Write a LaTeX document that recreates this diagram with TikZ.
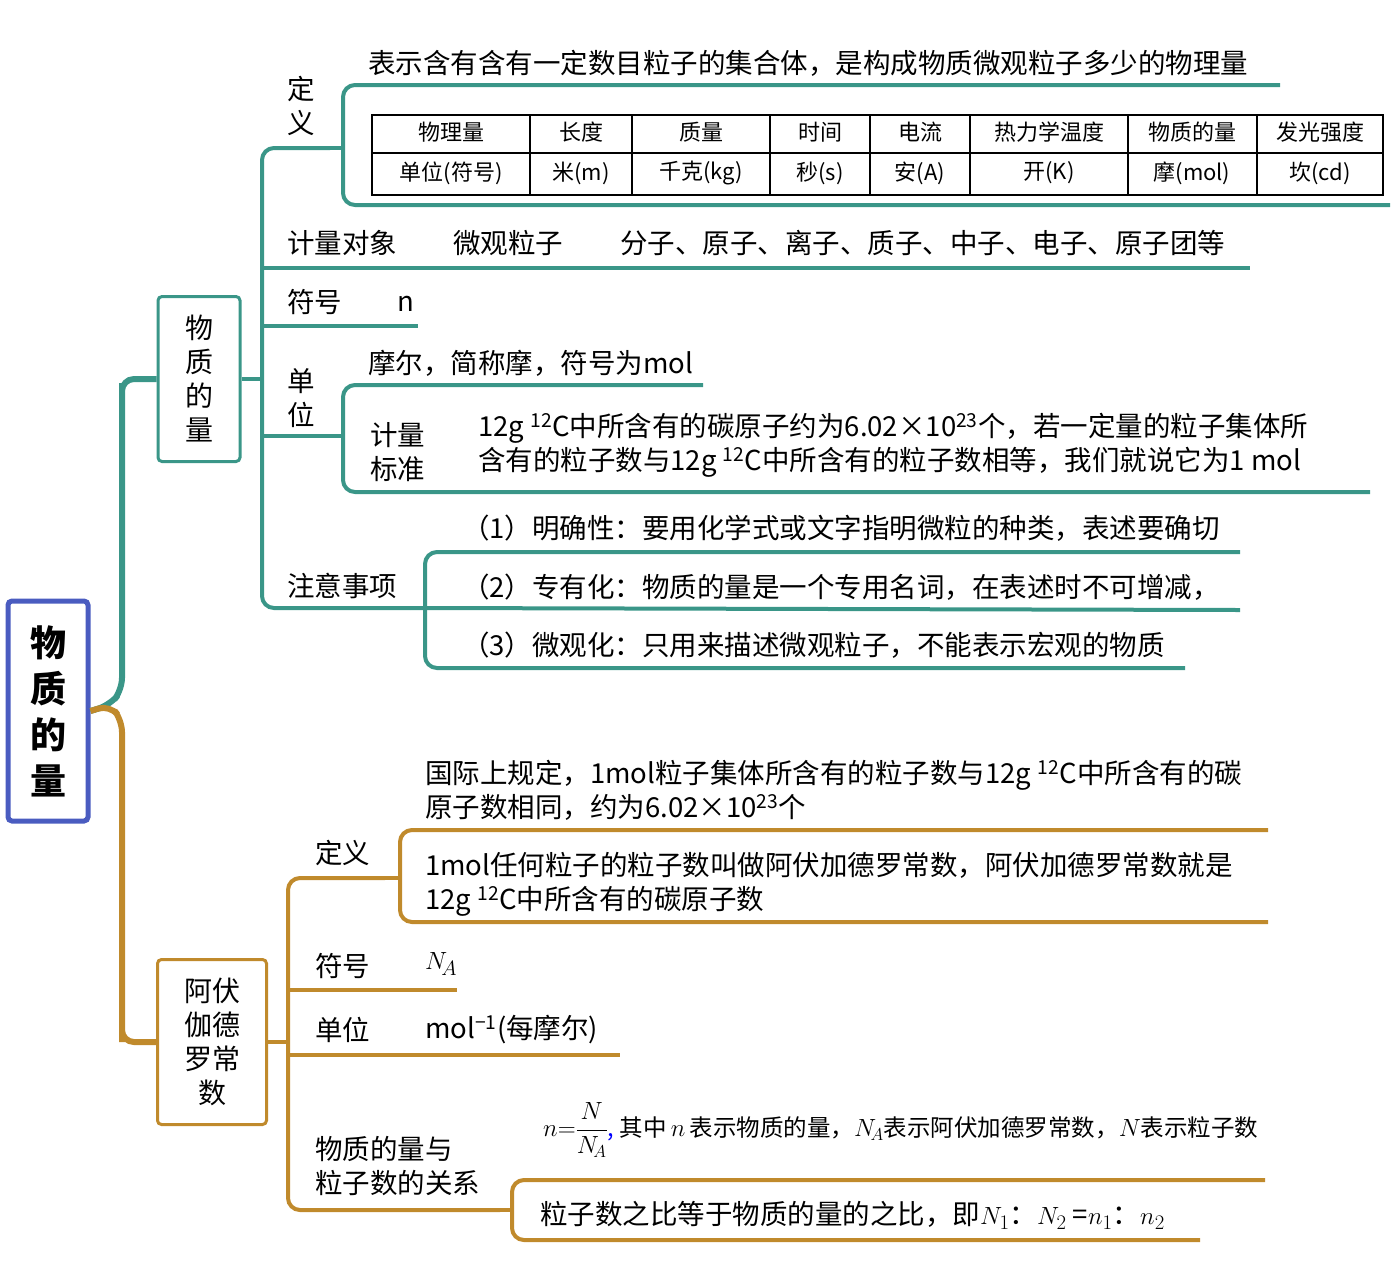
\documentclass[tikz,border=0pt]{standalone}
\usepackage{fontspec}
\setmainfont{Noto Sans CJK SC}
\begin{document}
\begin{tikzpicture}[x=1pt,y=-1pt,
  tl/.style={draw=teal0,line width=4pt,rounded corners=12pt},
  gl/.style={draw=gold0,line width=4pt,rounded corners=12pt},
  tx/.style={anchor=west,inner sep=0pt,font=\fontsize{27.5}{34}\selectfont,align=left},
  tb/.style={inner sep=0pt,font=\fontsize{22}{25}\selectfont},
  box/.style={draw,line width=3pt,rounded corners=4pt,inner sep=0pt,font=\fontsize{28}{34}\selectfont,align=center}]
\definecolor{teal0}{HTML}{3A9688}
\definecolor{gold0}{HTML}{C08A2C}
\definecolor{blue0}{HTML}{4A5CC0}
\useasboundingbox (0,0) rectangle (1391,1280);
% root and level 1
\node[box,draw=blue0,line width=5pt,minimum width=80pt,minimum height=220pt,font=\fontsize{36}{46}\selectfont\bfseries] (root) at (48,711) {物\\质\\的\\量};
\node[box,draw=teal0,minimum width=82pt,minimum height=165pt] (b1) at (199,379) {物\\质\\的\\量};
\node[box,draw=gold0,minimum width=109pt,minimum height=165pt] (b2) at (212,1042) {阿伏\\伽德\\罗常\\数};
\draw[tl,line width=6pt] (root.east) -- (110,705) -- (122,690) -- (122,395) |- (b1.west);
\draw[gl,line width=6pt] (root.east) -- (110,705) -- (122,720) -- (122,1030) |- (b2.west);
% teal trunk
\draw[tl] (b1.east) -- (262,379);
\draw[tl] (330,148) -| (262,608) -- (410,608);
\draw[tl] (262,268) -- (1250,268);
\draw[tl] (262,326) -- (418,326);
\draw[tl] (262,436) -- (330,436);
% brace 定义
\draw[tl] (1280,85) -| (343,205) -- (1390,205);
\draw[tl] (330,148) -- (343,148);
% brace 单位
\draw[tl] (703,385) -| (343,492) -- (1370,492);
\draw[tl] (330,436) -- (343,436);
% brace 注意事项
\draw[tl] (1240,552) -| (425,668) -- (1185,668);
\draw[tl] (410,608) -- (425,608) -- (1240,610);
\node[tx] (l1) at (287,106) {定\\义};
\node[tx] (t1) at (368,63) {表示含有含有一定数目粒子的集合体，是构成物质微观粒子多少的物理量};
% table
\draw[line width=1.5pt] (372,115) rectangle (1383,195) (372,153) -- (1383,153);
\foreach \x in {530,632,770,870,970,1128,1257} \draw[line width=1.5pt] (\x,115) -- (\x,195);
\node[tb] (c11) at (451,132) {物理量}; \node[tb] (c12) at (451,173) {单位(符号)};
\node[tb] (c21) at (581,132) {长度}; \node[tb] (c22) at (581,173) {米(m)};
\node[tb] (c31) at (701,132) {质量}; \node[tb] (c32) at (701,173) {千克(kg)};
\node[tb] (c41) at (820,132) {时间}; \node[tb] (c42) at (820,173) {秒(s)};
\node[tb] (c51) at (920,132) {电流}; \node[tb] (c52) at (920,173) {安(A)};
\node[tb] (c61) at (1049,132) {热力学温度}; \node[tb] (c62) at (1049,173) {开(K)};
\node[tb] (c71) at (1192,132) {物质的量}; \node[tb] (c72) at (1192,173) {摩(mol)};
\node[tb] (c81) at (1320,132) {发光强度}; \node[tb] (c82) at (1320,173) {坎(cd)};
\node[tx] (l2) at (287,243) {计量对象};
\node[tx] (t2) at (453,243) {微观粒子};
\node[tx] (t3) at (620,243) {分子、原子、离子、质子、中子、电子、原子团等};
\node[tx] (l3) at (287,302) {符号};
\node[tx] (t4) at (397,304) {n};
\node[tx] (l4) at (287,398) {单\\位};
\node[tx] (t5) at (368,363) {摩尔，简称摩，符号为mol};
\node[tx] (t6) at (370,452) {计量\\标准};
\node[tx] (t7) at (478,445) {12g \textsuperscript{12}C中所含有的碳原子约为6.02×10\textsuperscript{23}个，若一定量的粒子集体所\\含有的粒子数与12g \textsuperscript{12}C中所含有的粒子数相等，我们就说它为1 mol};
\node[tx] (l5) at (287,586) {注意事项};
\node[tx] (t8) at (462,528) {（1）明确性：要用化学式或文字指明微粒的种类，表述要确切};
\node[tx] (t9) at (462,587) {（2）专有化：物质的量是一个专用名词，在表述时不可增减，};
\node[tx] (t10) at (462,645) {（3）微观化：只用来描述微观粒子，不能表示宏观的物质};
% gold trunk
\draw[gl] (b2.east) -- (288,1042);
\draw[gl] (385,878) -| (288,1210) -- (500,1210);
\draw[gl] (288,990) -- (457,990);
\draw[gl] (288,1055) -- (620,1055);
\draw[gl] (1268,830) -| (400,922) -- (1268,922);
\draw[gl] (385,878) -- (400,878);
\draw[gl] (1265,1180) -| (512,1240) -- (1200,1240);
\draw[gl] (500,1210) -- (512,1210);
\node[tx] (l6) at (315,853) {定义};
\node[tx] (t11) at (425,790) {国际上规定，1mol粒子集体所含有的粒子数与12g \textsuperscript{12}C中所含有的碳\\原子数相同，约为6.02×10\textsuperscript{23}个};
\node[tx] (t12) at (425,884) {1mol任何粒子的粒子数叫做阿伏加德罗常数，阿伏加德罗常数就是\\12g \textsuperscript{12}C中所含有的碳原子数};
\node[tx] (l7) at (315,966) {符号};
\node[tx] (t13) at (425,964) {$N_{\!A}$};
\node[tx] (l8) at (315,1030) {单位};
\node[tx] (t14) at (425,1030) {mol\textsuperscript{−1}(每摩尔)};
\node[tx] (l9) at (315,1166) {物质的量与\\粒子数的关系};
\node[tx,font=\fontsize{23.5}{26}\selectfont] (t15) at (543,1130) {$n{=}\displaystyle\frac{N}{N_{\!A}}${\color{blue},}\ 其中$\,n\,$表示物质的量，$N_{\!A}$表示阿伏加德罗常数，$N$表示粒子数};
\node[tx] (t16) at (540,1215) {粒子数之比等于物质的量的之比，即$N_1$：$N_2$ =$n_1$：$n_2$};
\end{tikzpicture}
\end{document}
